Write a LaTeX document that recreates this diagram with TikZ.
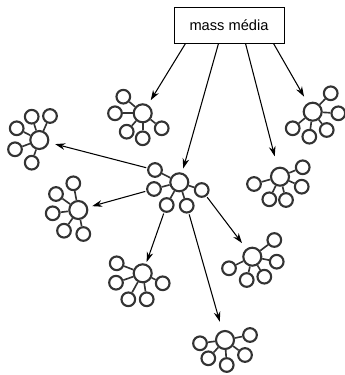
\documentclass[tikz,border=0pt]{standalone}
\usepackage{fontspec}
\setmainfont{Liberation Sans}
\usetikzlibrary{arrows.meta}

\begin{document}
\begin{tikzpicture}[x=0.03cm, y=-0.03cm,
    hub/.style={circle, draw=black!80, line width=1.8pt, minimum size=0.54cm, inner sep=0pt},
    sat/.style={circle, draw=black!80, line width=1.8pt, minimum size=0.41cm, inner sep=0pt},
    spoke/.style={draw=black!80, line width=1.4pt},
    arr/.style={-{Stealth[length=3mm, width=2mm]}, line width=0.9pt, shorten >=2mm}]
      \useasboundingbox (0,0) rectangle (344,375);

      \node[draw, line width=0.8pt, minimum width=3.3cm, minimum height=1.08cm,
        font=\fontsize{12.5}{15}\selectfont] (m) at (229,25) {mass média};

      \foreach \c/\x/\y/\pts in {
          a/142.7/113.3/{-19.4/-16.6, -27.7/0, -16/18.4, 0/25, 19/15},
          b/312.7/111.7/{18/-18.4, 25.6/1.6, 14/18.3, -3.4/25, -20/16.6},
          c/39.3/140/{-7.6/-23.3, 10.7/-24, -22.6/-11.7, -24.3/9.3, -7.6/22.7},
          d/179.3/182.3/{-24.3/-12.3, -25.3/6.7, -12.6/22.7, 7.4/23.4, 22.4/7.7},
          e/280/176.7/{22.7/-9.4, 21.7/10, 6/23.3, -10.7/22.6, -26/7.3},
          f/78.3/210/{-5/-26.7, -22.3/-16, -25.6/3.3, -14.3/20.7, 5/24},
          g/142.7/273.3/{-26/-10, -26.7/9.4, -14.4/26, 4/26, 20/10},
          h/252.3/256.7/{22/-16.7, 24.4/5, 12/20, -5.6/23.3, -23.3/11.6},
          i/225/340/{-25/3.3, -16.7/18.3, 1.7/25, 20/15, 25/-5}} {
        \node[hub] (\c) at (\x,\y) {};
        \foreach \dx/\dy [count=\k] in \pts {
          \node[sat] (\c\k) at ([shift={(\dx,\dy)}]\c) {};
          \draw[spoke] (\c) -- (\c\k);
        }
      }

      \coordinate (m1) at ([shift={(-43.5,0)}]m.south);
      \coordinate (m2) at ([shift={(-10.5,0)}]m.south);
      \coordinate (m3) at ([shift={(16.5,0)}]m.south);
      \coordinate (m4) at ([shift={(44.5,0)}]m.south);

      \draw[arr, shorten >=1.6mm] (m1) -- (a);
      \draw[arr, shorten >=1.3mm] (m2) -- (d);
      \draw[arr, shorten >=3.3mm] (m3) -- (e);
      \draw[arr, shorten >=2.2mm] (m4) -- (b);

      \draw[arr, shorten <=1pt, shorten >=1.9mm] (d1) -- (c);
      \draw[arr, shorten <=1pt, shorten >=1.3mm] (d2) -- (f);
      \draw[arr, shorten <=1pt, shorten >=0.6mm] (d3) -- (g);
      \draw[arr, shorten <=1pt, shorten >=2.7mm] (d4) -- (i);
      \draw[arr, shorten <=1pt, shorten >=2.1mm] (d5) -- (h);
    \end{tikzpicture}
\end{document}
